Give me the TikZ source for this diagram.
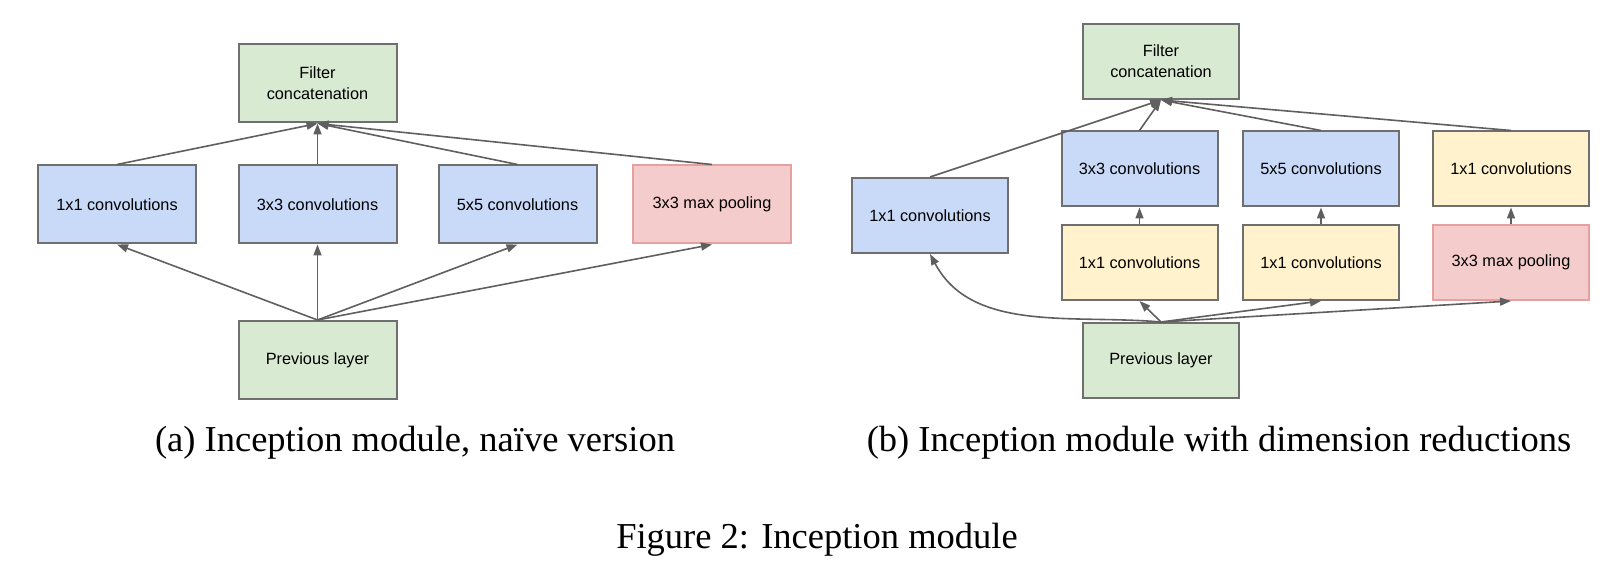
\documentclass[tikz,border=0pt]{standalone}
\usepackage{fontspec}
\setmainfont{Liberation Serif}
\newfontfamily\boxfont{Liberation Sans}
\usetikzlibrary{arrows.meta}
\definecolor{gbox}{HTML}{D9EAD3}
\definecolor{bbox}{HTML}{C9DAF8}
\definecolor{ybox}{HTML}{FFF2CC}
\definecolor{rbox}{HTML}{F4CCCC}
\definecolor{rline}{HTML}{E6A0A0}
\definecolor{bline}{HTML}{6F6F6F}
\definecolor{aline}{HTML}{5F5F5F}
\tikzset{
  layer/.style={draw=bline, line width=2pt, inner sep=0pt, align=center,
    font=\boxfont\fontsize{16.3}{21}\selectfont, minimum width=#1},
  layer/.default=158pt,
  greenbox/.style={layer, fill=gbox},
  bluebox/.style={layer, fill=bbox},
  yellowbox/.style={layer, fill=ybox},
  redbox/.style={layer, fill=rbox, draw=rline},
  ha/.style={minimum height=78pt},
  hb/.style={minimum height=75pt, minimum width=156pt},
  conn/.style={draw=aline, line width=1.6pt, -{Triangle[length=11pt,width=8pt]}},
  captext/.style={font=\fontsize{36.5}{40}\selectfont, anchor=base, inner sep=0pt}
}
\begin{document}
\begin{tikzpicture}[x=1pt, y=-1pt]
\path[use as bounding box] (0,0) rectangle (1620,585);
% ---- panel (a)
\node[greenbox, ha] (fa) at (317.5,83.5) {Filter\\concatenation};
\node[bluebox, ha] (a1) at (117,204.5) {1x1 convolutions};
\node[bluebox, ha] (a3) at (317.5,204.5) {3x3 convolutions};
\node[bluebox, ha] (a5) at (517.5,204.5) {5x5 convolutions};
\node[redbox, ha] (ap) at (712,204.5) {3x3 max pooling};
\node[greenbox, ha] (pa) at (317.5,360) {Previous layer};
\foreach \t in {a1,a3,a5,ap} {
  \draw[conn] (pa.north) -- (\t.south);
  \draw[conn] (\t.north) -- (fa.south);
}
% ---- panel (b)
\node[greenbox, hb] (fb) at (1161,61.5) {Filter\\concatenation};
\node[bluebox, hb] (b1) at (930,215.5) {1x1 convolutions};
\node[bluebox, hb] (b3) at (1139.5,169) {3x3 convolutions};
\node[bluebox, hb] (b5) at (1321,169) {5x5 convolutions};
\node[yellowbox, hb] (bt) at (1511,169) {1x1 convolutions};
\node[yellowbox, hb] (y3) at (1139.5,262.5) {1x1 convolutions};
\node[yellowbox, hb] (y5) at (1321,262.5) {1x1 convolutions};
\node[redbox, hb] (bp) at (1511,262.5) {3x3 max pooling};
\node[greenbox, hb] (pb) at (1161,360.5) {Previous layer};
\foreach \t in {b1,b3,b5,bt} \draw[conn] (\t.north) -- (fb.south);
\draw[conn] (y3.north) -- (b3.south);
\draw[conn] (y5.north) -- (b5.south);
\draw[conn] (bp.north) -- (bt.south);
\draw[conn] (pb.north) to[out=175,in=-62,looseness=0.95] (b1.south);
\draw[conn] (pb.north) -- (y3.south);
\draw[conn] (pb.north) -- (y5.south);
\draw[conn] (pb.north) -- (bp.south);
% ---- captions
\node[captext] (capa) at (415,451) {(a)\ Inception module, na\"{\i}ve version};
\node[captext] (capb) at (1219,451) {(b)\ Inception module with dimension reductions};
\node[captext] (capf) at (817,548) {Figure 2: Inception module};
\end{tikzpicture}
\end{document}
